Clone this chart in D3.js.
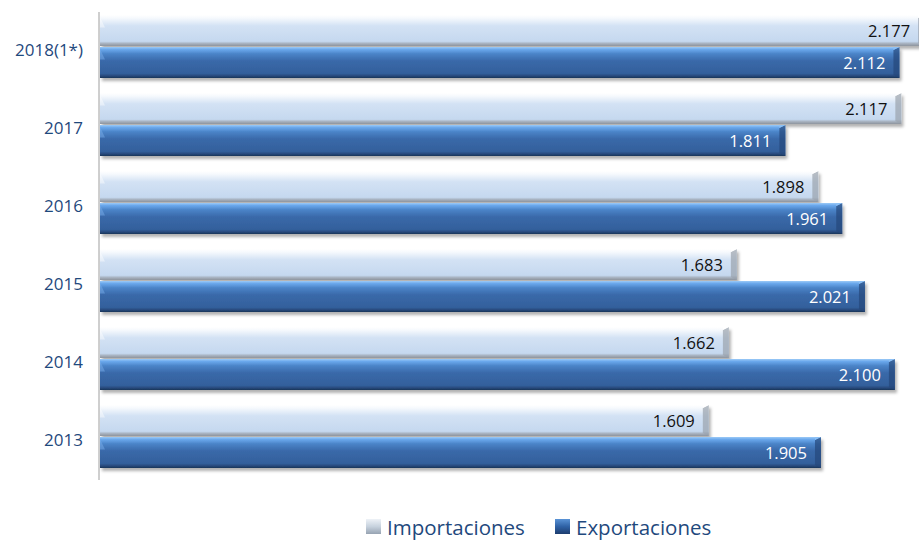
<!DOCTYPE html>
<html>
<head>
<meta charset="utf-8">
<script src="https://cdn.jsdelivr.net/npm/d3@7"></script>
<style>
  body { margin: 0; background: #fff; }
  svg { display: block; font-family: "Open Sans", "Noto Sans", sans-serif; }
</style>
</head>
<body>
<svg id="chart" width="919" height="540"></svg>
<script>
// data
var categories = ["2018(1*)", "2017", "2016", "2015", "2014", "2013"];
var series = ["Importaciones", "Exportaciones"];
var importaciones = [2177, 2117, 1898, 1683, 1662, 1609];
var exportaciones = [2112, 1811, 1961, 2021, 2100, 1905];

var rows = categories.map(function(c, i) {
  return { cat: c, Importaciones: importaciones[i], Exportaciones: exportaciones[i] };
});

var svg = d3.select("#chart");
var defs = svg.append("defs");

// gradients for the bevelled bars
var grad = function(id, stops) {
  var g = defs.append("linearGradient").attr("id", id)
    .attr("x1", 0).attr("y1", 0).attr("x2", 0).attr("y2", 1);
  stops.forEach(function(s) {
    g.append("stop").attr("offset", s[0]).attr("stop-color", s[1]);
  });
};
grad("gImp", [[0, "#ffffff"], [0.1, "#f6f9fd"], [0.35, "#d3e2f4"], [0.85, "#c5d8ef"], [0.92, "#a7b2c0"], [1, "#8d949d"]]);
grad("gExp", [[0, "#9ccaf7"], [0.08, "#6aa8ec"], [0.22, "#4a84c8"], [0.45, "#3a69a9"], [0.85, "#33609c"], [0.93, "#284a7d"], [1, "#1c3559"]]);
grad("gImpLeg", [[0, "#eef2f7"], [0.5, "#c7d2de"], [1, "#97a3b2"]]);
grad("gExpLeg", [[0, "#5a93d6"], [0.5, "#2f62a6"], [1, "#1d3d6e"]]);

var shadow = defs.append("filter").attr("id", "shadow")
  .attr("x", "-5%").attr("y", "-30%").attr("width", "110%").attr("height", "170%");
shadow.append("feDropShadow").attr("dx", 2).attr("dy", 3)
  .attr("stdDeviation", 1.8).attr("flood-color", "#000").attr("flood-opacity", 0.3);

var x = d3.scaleLinear().domain([0, 2500]).range([99, 99 + 947.5]);
var y = d3.scaleBand().domain(categories).range([12, 480]);
var ySub = d3.scaleBand().domain(series).range([3, 67]);

var fills = { Importaciones: "url(#gImp)", Exportaciones: "url(#gExp)" };
var labelColor = { Importaciones: "#111", Exportaciones: "#fff" };

// category axis
var yAxis = svg.append("g").attr("transform", "translate(99,0)")
  .call(d3.axisLeft(y).tickSize(0).tickPadding(16));
yAxis.attr("font-family", null).attr("font-size", null);
yAxis.select(".domain").remove();
yAxis.selectAll("text")
  .attr("fill", "#1f497d").style("font-size", "17px");

svg.append("line")
  .attr("x1", 99).attr("x2", 99)
  .attr("y1", y.range()[0]).attr("y2", y.range()[1])
  .attr("stroke", "#bfbfbf").attr("stroke-width", 1.5);

var groups = svg.selectAll("g.grp").data(rows).enter().append("g")
  .attr("class", "grp")
  .attr("transform", function(d) { return "translate(0," + y(d.cat) + ")"; });

var bars = groups.selectAll("g.bar")
  .data(function(d) { return series.map(function(s) { return { s: s, v: d[s] }; }); })
  .enter().append("g").attr("class", "bar");

bars.append("rect")
  .attr("x", x(0) + 1)
  .attr("y", function(d) { return ySub(d.s); })
  .attr("width", function(d) { return x(d.v) - x(0) - 1; })
  .attr("height", ySub.bandwidth() - 1)
  .attr("fill", function(d) { return fills[d.s]; })
  .attr("filter", "url(#shadow)");

// right-end bevel
bars.append("path")
  .attr("d", function(d) {
    var x1 = x(d.v), y0 = ySub(d.s), y1 = y0 + ySub.bandwidth() - 1, b = 6;
    return "M" + (x1 - b) + "," + (y0 + 3) + "L" + x1 + "," + y0 +
      "L" + x1 + "," + y1 + "L" + (x1 - b) + "," + (y1 - 3) + "Z";
  })
  .attr("fill", function(d) { return d.s === "Importaciones" ? "#9aa3ad" : "#25477a"; })
  .attr("opacity", 0.7);
bars.append("path")
  .attr("d", function(d) {
    var x1 = x(d.v), y0 = ySub(d.s), b = 6;
    return "M" + (x1 - b) + "," + (y0 + 3) + "L" + x1 + "," + y0 +
      "L" + (x1 - b) + "," + y0 + "Z";
  })
  .attr("fill", function(d) { return d.s === "Importaciones" ? "#ffffff" : "#8cc0f5"; });
// left-end bevel
bars.append("path")
  .attr("d", function(d) {
    var x0 = x(0) + 1, y0 = ySub(d.s), h = ySub.bandwidth() - 1;
    return "M" + x0 + "," + (y0 + 2) + "L" + (x0 + 5) + "," + (y0 + h * 0.4) +
      "L" + x0 + "," + (y0 + h * 0.4) + "Z";
  })
  .attr("fill", function(d) { return d.s === "Importaciones" ? "#ffffff" : "#7fb4ef"; })
  .attr("opacity", 0.45);

bars.append("text")
  .attr("x", function(d) { return x(d.v) - 14; })
  .attr("y", function(d) { return ySub(d.s) + ySub.bandwidth() / 2; })
  .attr("dy", "0.36em")
  .attr("text-anchor", "end")
  .attr("fill", function(d) { return labelColor[d.s]; })
  .style("font-size", "16.5px")
  .text(function(d) { return d3.format(",")(d.v).replace(",", "."); });

// legend
var legendX = { Importaciones: 366, Exportaciones: 555 };
var legFill = { Importaciones: "url(#gImpLeg)", Exportaciones: "url(#gExpLeg)" };
var leg = svg.selectAll("g.leg").data(series).enter().append("g")
  .attr("class", "leg")
  .attr("transform", function(s) { return "translate(" + legendX[s] + ",519)"; });
leg.append("rect").attr("width", 15).attr("height", 15)
  .attr("fill", function(s) { return legFill[s]; });
leg.append("text").attr("x", 21).attr("y", 16)
  .attr("fill", "#1f497d").style("font-size", "20.5px")
  .text(function(s) { return s; });
</script>
</body>
</html>
